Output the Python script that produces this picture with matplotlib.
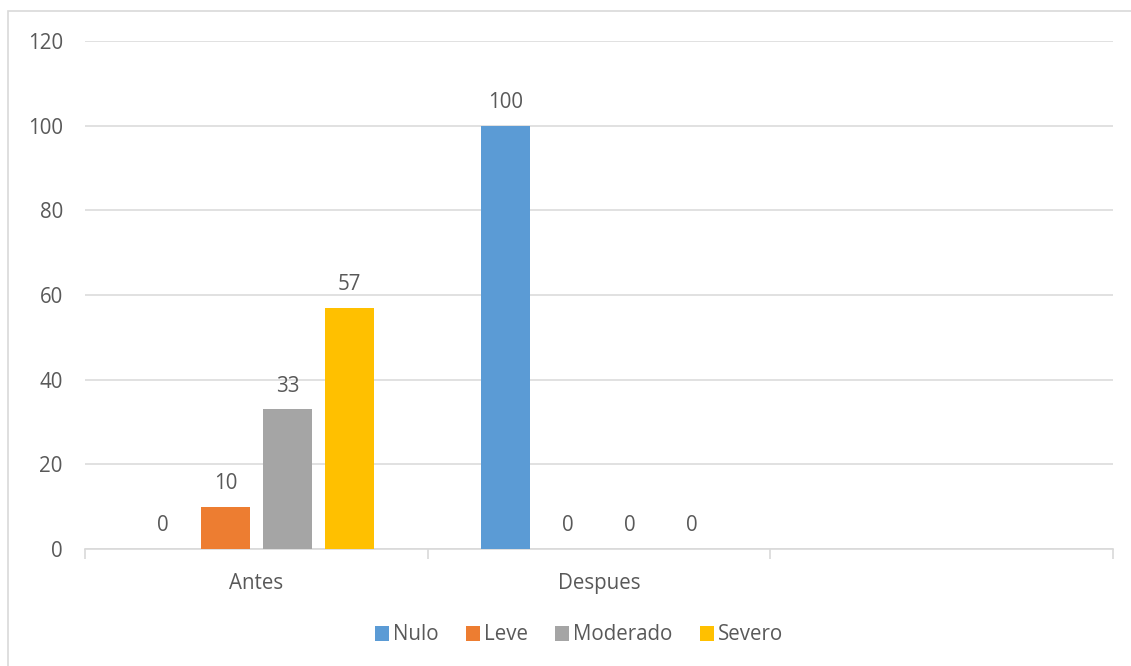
import matplotlib
matplotlib.use("Agg")
import matplotlib.pyplot as plt
from matplotlib.patches import Rectangle
import numpy as np

categories = ["Antes", "Despues", ""]
series_names = ["Nulo", "Leve", "Moderado", "Severo"]
nulo = [0, 100, None]
leve = [10, 0, None]
moderado = [33, 0, None]
severo = [57, 0, None]
colors = ["#5B9BD5", "#ED7D31", "#A5A5A5", "#FFC000"]
y_ticks = [0, 20, 40, 60, 80, 100, 120]

plt.rcParams["font.family"] = ["Open Sans", "DejaVu Sans"]
text_color = "#595959"
grid_color = "#D9D9D9"
fs = 14.8

W, H = 1131, 666
fig = plt.figure(figsize=(W / 100, H / 100), dpi=100)
fig.patches.append(Rectangle((8 / W, -0.1), 1.2, 1 - 11 / H + 0.1, transform=fig.transFigure,
                             fill=False, edgecolor=grid_color, linewidth=1.2))

ax = fig.add_axes([85 / W, 1 - 549 / H, (1113 - 85) / W, (549 - 41) / H])

step = 0.181
bar_w = 0.143
x = np.arange(len(categories))
all_series = [nulo, leve, moderado, severo]
handles = []
for i, (name, vals, c) in enumerate(zip(series_names, all_series, colors)):
    offset = (i - 1.5) * step
    xs = [xi + offset for xi, v in zip(x, vals) if v is not None]
    vs = [v for v in vals if v is not None]
    bars = ax.bar(xs, vs, width=bar_w, color=c, label=name, zorder=3)
    handles.append(bars)
    for xx, v in zip(xs, vs):
        ax.text(xx, v + 3.0, f"{v}", ha="center", va="bottom", fontsize=fs, color=text_color)

ax.set_xlim(-0.5, len(categories) - 0.5)
ax.set_ylim(0, 120)
ax.set_yticks(y_ticks)
ax.set_yticklabels([str(t) for t in y_ticks], fontsize=fs, color=text_color)
ax.yaxis.grid(True, color=grid_color, linewidth=1.1, zorder=0)
ax.tick_params(axis="y", length=0, pad=16)

ax.set_xticks(x)
ax.set_xticklabels(categories, fontsize=fs, color=text_color)
ax.set_xticks(np.arange(len(categories) + 1) - 0.5, minor=True)
ax.tick_params(axis="x", which="major", length=0, pad=17)
ax.tick_params(axis="x", which="minor", length=7, color=grid_color, width=1.2)

for s in ["top", "right", "left"]:
    ax.spines[s].set_visible(False)
ax.spines["bottom"].set_color(grid_color)
ax.spines["bottom"].set_linewidth(1.2)

leg = fig.legend(handles=handles, labels=series_names, loc="center", bbox_to_anchor=(0.512, 1 - 635 / H),
                 ncol=4, frameon=False, fontsize=fs, handlelength=0.7, handleheight=0.7,
                 handletextpad=0.2, columnspacing=1.3)
for t in leg.get_texts():
    t.set_color(text_color)

fig.savefig("out.png", dpi=100)
